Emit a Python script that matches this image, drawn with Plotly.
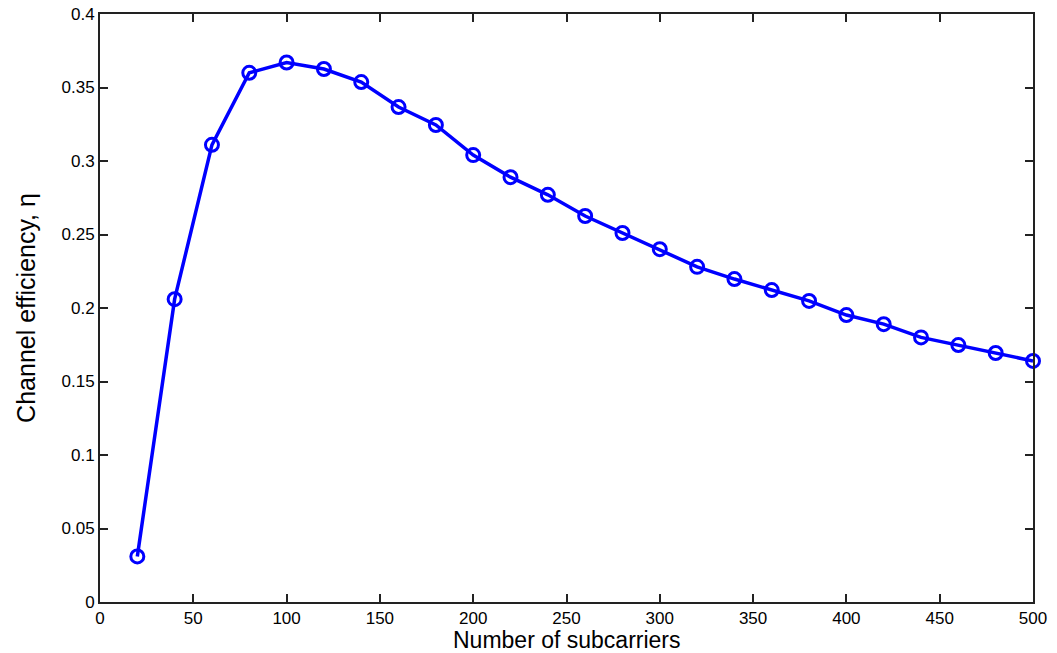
import plotly.graph_objects as go

subcarriers = [20, 40, 60, 80, 100, 120, 140, 160, 180, 200, 220, 240, 260, 280, 300,
               320, 340, 360, 380, 400, 420, 440, 460, 480, 500]
efficiency = [0.031, 0.206, 0.311, 0.360, 0.367, 0.3626, 0.3537, 0.3367, 0.3245, 0.304,
              0.289, 0.277, 0.2626, 0.251, 0.240, 0.228, 0.2197, 0.2122, 0.2048, 0.1952,
              0.189, 0.180, 0.1748, 0.1694, 0.164]
x_ticks = [0, 50, 100, 150, 200, 250, 300, 350, 400, 450, 500]
y_ticks = [0, 0.05, 0.1, 0.15, 0.2, 0.25, 0.3, 0.35, 0.4]
y_tick_text = ["0", "0.05", "0.1", "0.15", "0.2", "0.25", "0.3", "0.35", "0.4"]
x_title = "Number of subcarriers"
y_title = "Channel efficiency, η"

fig = go.Figure()
fig.add_trace(go.Scatter(
    x=subcarriers, y=efficiency, mode="lines+markers",
    line=dict(color="#0000ff", width=3.5),
    marker=dict(symbol="circle-open", size=13, color="#0000ff", line=dict(width=3, color="#0000ff")),
    showlegend=False, cliponaxis=False,
))

font = dict(family="Liberation Sans, Arial, sans-serif", color="black")
axis_common = dict(
    showgrid=False, zeroline=False, showline=True, linecolor="#222222", linewidth=2,
    mirror="ticks", ticks="inside", ticklen=8, tickwidth=1.5, tickcolor="#222222",
    tickfont=dict(size=17, **font), automargin=False,
)
fig.update_layout(
    width=1057, height=653,
    margin=dict(l=100, r=24, t=14, b=51),
    plot_bgcolor="white", paper_bgcolor="white",
    xaxis=dict(range=[0, 500], tickvals=x_ticks, ticklabelstandoff=0, **axis_common),
    yaxis=dict(range=[0, 0.4], tickvals=y_ticks, ticktext=y_tick_text,
               title=dict(text=y_title, font=dict(size=25, **font), standoff=19),
               **axis_common),
    annotations=[dict(text=x_title, xref="paper", yref="paper", x=0.5, y=0,
                      xanchor="center", yanchor="middle", yshift=-38, showarrow=False,
                      borderpad=0, font=dict(size=23, **font))],
)
fig.write_html("out.html")
